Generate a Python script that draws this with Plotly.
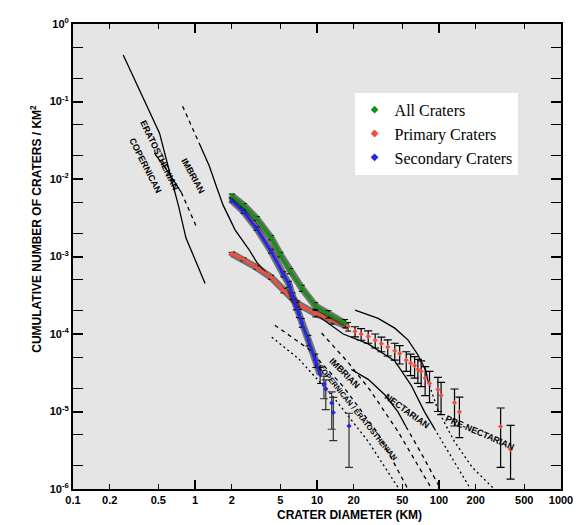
import plotly.graph_objects as go
import math

# ---------------- data ----------------
# All craters
ALL_D = [2.0, 2.5, 3.2, 4.2, 5.0, 6.0, 7.5, 9.7, 12.4, 17.0]
ALL_N = [6.1e-3, 4.6e-3, 3.1e-3, 1.75e-3, 1.06e-3, 6.5e-4, 3.9e-4, 2.3e-4, 1.8e-4, 1.37e-4]
ALL_ERR = [3e-4, 2.3e-4, 1.8e-4, 1.1e-4, 7e-5, 5e-5, 3.5e-5, 2.3e-5, 2e-5, 1.7e-5]

# Primary craters
PRI_D = [2.0, 2.5, 3.2, 4.2, 5.3, 6.9, 9.7, 13.2, 18.0, 20.5, 23.0, 26.3, 30.0, 33.7, 38.0,
         43.4, 47.6, 53.9, 58.5, 63.1, 67.1, 71.4, 77.0, 83.6, 98.0, 104.0, 134.0, 147.0, 320.0, 386.0]
PRI_N = [1.09e-3, 9.2e-4, 7.2e-4, 5.4e-4, 3.64e-4, 2.47e-4, 1.84e-4, 1.51e-4, 1.25e-4, 1.08e-4,
         1.0e-4, 9.3e-5, 8.3e-5, 7.5e-5, 6.8e-5, 6.1e-5, 5.6e-5, 4.6e-5, 4.2e-5, 3.9e-5, 3.5e-5,
         3.3e-5, 2.7e-5, 2.3e-5, 1.92e-5, 1.61e-5, 1.3e-5, 9.9e-6, 6.4e-6, 3.24e-6]
PRI_ERR_UP = [4e-5, 4e-5, 3.5e-5, 3e-5, 2.5e-5, 2e-5, 1.8e-5, 1.7e-5, 1.6e-5, 1.6e-5,
              1.7e-5, 1.7e-5, 1.7e-5, 1.6e-5, 1.6e-5, 1.5e-5, 1.5e-5, 1.3e-5, 1.3e-5, 1.2e-5, 1.2e-5,
              1.2e-5, 1.1e-5, 1.0e-5, 8.4e-6, 7.7e-6, 6.5e-6, 5.4e-6, 4.7e-6, 3.4e-6]
PRI_ERR_DN = [4e-5, 4e-5, 3.5e-5, 3e-5, 2.5e-5, 2e-5, 1.8e-5, 1.7e-5, 1.6e-5, 1.6e-5,
              1.7e-5, 1.7e-5, 1.7e-5, 1.6e-5, 1.6e-5, 1.5e-5, 1.5e-5, 1.3e-5, 1.3e-5, 1.2e-5, 1.2e-5,
              1.2e-5, 1.1e-5, 1.0e-5, 9.2e-6, 7.0e-6, 6.5e-6, 5.3e-6, 4.5e-6, 1.9e-6]

# Secondary craters
SEC_D = [2.0, 2.5, 3.2, 4.2, 5.3, 5.9, 6.3, 6.7, 7.1, 7.5, 8.5, 9.7, 10.6, 11.4, 11.8, 13.2, 13.6, 18.3]
SEC_N = [5.3e-3, 3.8e-3, 2.3e-3, 1.17e-3, 5.9e-4, 4.4e-4, 3.1e-4, 2.3e-4, 1.85e-4, 1.4e-4,
         8.3e-5, 4.6e-5, 3.0e-5, 2.26e-5, 1.96e-5, 1.29e-5, 9.7e-6, 6.5e-6]
SEC_ERR_UP = [2.5e-4, 1.9e-4, 1.3e-4, 7e-5, 4.5e-5, 3.8e-5, 3e-5, 2.5e-5, 2.2e-5, 1.8e-5,
              1.3e-5, 9e-6, 7e-6, 6e-6, 6e-6, 5e-6, 5.5e-6, 3e-6]
SEC_ERR_DN = [2.5e-4, 1.9e-4, 1.3e-4, 7e-5, 4.5e-5, 3.8e-5, 3e-5, 2.5e-5, 2.2e-5, 1.8e-5,
              1.3e-5, 9e-6, 7e-6, 8e-6, 9e-6, 7e-6, 5.5e-6, 4.6e-6]

# Isochron / reference curves (diameter km, cumulative density)
COP_D = [0.258, 0.409, 0.512, 0.646, 0.73, 0.844, 1.02, 1.21]
COP_N = [0.397, 0.0851, 0.039, 9.5e-3, 4.6e-3, 1.73e-3, 8.7e-4, 4.5e-4]
ERA_SOLID_D = [0.465, 0.594, 0.773]
ERA_SOLID_N = [0.0216, 0.0127, 6.7e-3]
ERA_DASH_D = [0.773, 1.02]
ERA_DASH_N = [6.7e-3, 2.48e-3]
IMB_DASH_D = [0.792, 1.08]
IMB_DASH_N = [0.0869, 0.0291]
IMB_D = [1.08, 1.31, 1.49, 1.70, 2.13, 2.77, 3.21, 4.18, 5.43, 7.06, 10.3, 16.4, 26.3, 43.4, 59.2, 76.1, 91.8]
IMB_N = [0.0291, 0.01475, 8.2e-3, 4.6e-3, 2.21e-3, 1.23e-3, 8.4e-4, 5.4e-4, 3.4e-4, 2.47e-4,
         1.69e-4, 1.0e-4, 7.45e-5, 4.5e-5, 2.18e-5, 9.9e-6, 6.0e-6]
IMB_TAIL_D = [91.8, 129.4, 181.4]
IMB_TAIL_N = [6.0e-6, 2.44e-6, 1.0e-6]
PNEC_D = [20.5, 31.7, 43.4, 55.6, 67.1, 78.0, 80.9]
PNEC_N = [2.03e-4, 1.59e-4, 1.19e-4, 8.4e-5, 5.4e-5, 3.38e-5, 2.52e-5]
PNEC_DOT_D = [80.9, 97.7, 133.6, 188.0, 283.0]
PNEC_DOT_N = [2.52e-5, 1.05e-5, 4.1e-6, 1.89e-6, 1.0e-6]
NEC_D = [19.1, 26.3, 36.1, 46.1, 53.6]
NEC_N = [3.48e-5, 2.6e-5, 1.63e-5, 9.9e-6, 6.4e-6]
NEC_TAIL_D = [53.6, 73.7, 103.0]
NEC_TAIL_N = [6.4e-6, 2.66e-6, 1.0e-6]
L1_D = [4.26, 7.06, 13.6, 26.3, 47.0]
L1_N = [9.1e-5, 4.8e-5, 1.54e-5, 4.1e-6, 1.0e-6]
L2_D = [4.51, 8.53, 16.4, 31.7, 55.6]
L2_N = [1.30e-4, 6.4e-5, 2.1e-5, 5.2e-6, 1.0e-6]
L3_D = [10.9, 18.06, 27.3, 46.1, 87.3]
L3_N = [1.03e-4, 4.27e-5, 1.88e-5, 5.52e-6, 1.0e-6]

X_TICKS_MAJOR = [0.1, 1, 10, 100, 1000]
X_TICKS_MINOR = [0.2, 0.5, 2, 5, 20, 50, 200, 500]
X_MINOR_TEXT = ["0.2", "0.5", "2", "5", "20", "50", "200", "500"]
Y_TICKS = [1, 1e-1, 1e-2, 1e-3, 1e-4, 1e-5, 1e-6]
Y_TICK_TEXT = ["10<sup>0</sup>", "10<sup>-1</sup>", "10<sup>-2</sup>", "10<sup>-3</sup>",
               "10<sup>-4</sup>", "10<sup>-5</sup>", "10<sup>-6</sup>"]
Y_MINOR = [v * m for v in [1e-1, 1e-2, 1e-3, 1e-4, 1e-5, 1e-6] for m in (2, 5)]

GREEN = "#149114"
RED = "#f0503c"
BLUE = "#2626e0"
DASH = "4px,4px"
DOT = "2px,3px"

fig = go.Figure()

def curve(xs, ys, dash="solid", width=1.3, xaxis="x"):
    fig.add_trace(go.Scatter(x=xs, y=ys, mode="lines", showlegend=False, hoverinfo="skip", xaxis=xaxis,
                             line=dict(color="black", width=width, dash=dash)))

curve(COP_D, COP_N, xaxis="x2")
curve(ERA_SOLID_D, ERA_SOLID_N)
curve(ERA_DASH_D, ERA_DASH_N, dash=DASH)
curve(IMB_DASH_D, IMB_DASH_N, dash=DASH)
curve(IMB_D, IMB_N)
curve(IMB_TAIL_D, IMB_TAIL_N, dash=DOT)
curve(PNEC_D, PNEC_N)
curve(PNEC_DOT_D, PNEC_DOT_N, dash=DOT)
curve(NEC_D, NEC_N)
curve(NEC_TAIL_D, NEC_TAIL_N, dash=DASH)
curve(L1_D, L1_N, dash=DOT)
curve(L2_D, L2_N, dash=DASH)
curve(L3_D, L3_N, dash=DASH)

def dense(xs, ys, up, dn, color):
    fig.add_trace(go.Scatter(x=xs, y=ys, mode="lines", showlegend=False, hoverinfo="skip",
                             line=dict(color="rgba(20,20,20,0.55)", width=7)))
    fig.add_trace(go.Scatter(x=xs, y=ys, mode="lines+markers", showlegend=False,
                             line=dict(color=color, width=3),
                             marker=dict(symbol="diamond", size=4, color=color),
                             error_y=dict(type="data", array=up, arrayminus=dn, symmetric=False,
                                          color="black", thickness=1, width=3)))

def sparse(xs, ys, up, dn, color, barcolor="black"):
    fig.add_trace(go.Scatter(x=xs, y=ys, mode="markers", showlegend=False,
                             marker=dict(symbol="diamond", size=4, color=color),
                             error_y=dict(type="data", array=up, arrayminus=dn, symmetric=False,
                                          color=barcolor, thickness=1.2, width=4)))

NP = 9   # primary: dense up to 18 km
dense(PRI_D[:NP], PRI_N[:NP], PRI_ERR_UP[:NP], PRI_ERR_DN[:NP], RED)
sparse(PRI_D[NP:], PRI_N[NP:], PRI_ERR_UP[NP:], PRI_ERR_DN[NP:], RED)
NS = 13  # secondary: dense up to 10.6 km
dense(SEC_D[:NS], SEC_N[:NS], SEC_ERR_UP[:NS], SEC_ERR_DN[:NS], BLUE)
sparse(SEC_D[NS:], SEC_N[NS:], SEC_ERR_UP[NS:], SEC_ERR_DN[NS:], BLUE, barcolor="#333333")
dense(ALL_D, ALL_N, ALL_ERR, ALL_ERR, GREEN)

# legend entries
for nm, col, grp in [("All Craters", GREEN, "a"), ("Primary Craters", RED, "b"), ("Secondary Craters", BLUE, "c")]:
    fig.add_trace(go.Scatter(x=[None], y=[None], mode="markers", name=nm, legendgroup=grp,
                             marker=dict(symbol="diamond", size=6, color=col)))

# curve labels
LABELS = [
    ("COPERNICAN", 0.394, 10 ** -1.831, 63, 9),
    ("ERATOSTHENIAN", 0.515, 10 ** -1.70, 64, 9),
    ("IMBRIAN", 0.968, 10 ** -1.958, 61, 9),
    ("IMBRIAN", 16.7, 10 ** -4.509, 45, 9),
    ("COPERNICAN / ERATOSTHENIAN", 21.4, 10 ** -5.017, 51, 7.5),
    ("NECTARIAN", 54.6, 10 ** -4.991, 36, 9),
    ("PRE-NECTARIAN", 218.8, 10 ** -5.274, 23.5, 9),
]
for txt, lx, ly, ang, sz in LABELS:
    fig.add_annotation(x=math.log10(lx), y=math.log10(ly), xref="x", yref="y", text=txt, showarrow=False,
                       textangle=ang, font=dict(family="Liberation Sans", size=sz, color="black", weight="bold"))

# axis titles
fig.add_annotation(x=-0.098, y=0.56, xref="paper", yref="paper", text="CUMULATIVE NUMBER OF CRATERS / KM<sup>2</sup>",
                   textangle=-90, showarrow=False, font=dict(family="Liberation Sans", size=12, color="black", weight="bold"))
fig.add_annotation(x=0.566, y=-0.056, xref="paper", yref="paper", text="CRATER DIAMETER (KM)", showarrow=False,
                   yanchor="middle", font=dict(family="Liberation Sans", size=12, color="black", weight="bold"))

tickfont = dict(family="Liberation Sans", size=11, color="black", weight="bold")
axis_common = dict(type="log", ticks="inside", tickcolor="black", showgrid=False, zeroline=False,
                   showline=True, linewidth=2, linecolor="black", mirror="allticks", tickfont=tickfont)
fig.update_layout(
    width=573, height=517,
    margin=dict(l=65, r=17, t=8, b=36),
    paper_bgcolor="white", plot_bgcolor="#e5e5e5",
    showlegend=True,
    legend=dict(x=0.577, y=0.852, xanchor="left", yanchor="top", bgcolor="white", borderwidth=0,
                font=dict(family="Liberation Serif", size=16, color="black"), tracegroupgap=0),
    xaxis=dict(range=[-1, 3], tickvals=X_TICKS_MAJOR, ticktext=["0.1", "1", "10", "100", "1000"],
               ticklen=9, tickwidth=1.5, **axis_common),
    xaxis2=dict(range=[-1, 3], overlaying="x", anchor="y", side="bottom",
                tickvals=X_TICKS_MINOR, ticktext=X_MINOR_TEXT, ticklen=5, tickwidth=1.2, **axis_common),
    yaxis=dict(range=[-6, 0], tickvals=Y_TICKS, ticktext=Y_TICK_TEXT, ticklen=10, tickwidth=1.5,
               minor=dict(tickmode="array", tickvals=Y_MINOR, ticks="inside", ticklen=7, tickcolor="black",
                          tickwidth=1.2, showgrid=False),
               **axis_common),
)

fig.write_html("out.html")
